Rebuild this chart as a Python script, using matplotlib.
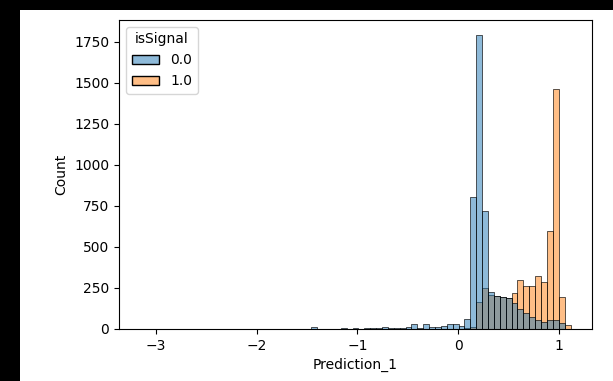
import numpy as np
import matplotlib
matplotlib.use("Agg")
import matplotlib.pyplot as plt
from matplotlib.colors import to_rgba
from matplotlib.patches import Rectangle, Patch

# Histogram bin range and counts per hue level (73 equal-width bins)
x_min = -3.152
x_max = 1.114

counts_bg = [1, 0, 0, 0, 0, 1, 0, 0, 0, 0,
             0, 1, 0, 0, 0, 0, 1, 0, 0, 0,
             0, 1, 0, 0, 1, 0, 1, 0, 2, 10,
             1, 2, 1, 3, 8, 3, 8, 3, 4, 6,
             9, 10, 8, 8, 9, 10, 28, 9, 28, 12,
             11, 20, 33, 33, 18, 58, 806, 1794, 720, 227,
             201, 197, 188, 158, 124, 100, 72, 57, 42, 52,
             57, 34, 3]
counts_sig = [0] * 54 + [2, 6, 15, 166, 252, 210, 200, 195, 190, 217,
                         300, 262, 260, 323, 287, 599, 1462, 195, 24]

hue_levels = ["0.0", "1.0"]
hue_colors = ["#1f77b4", "#ff7f0e"]
x_label = "Prediction_1"
y_label = "Count"
legend_title = "isSignal"

fig = plt.figure(figsize=(6.13, 3.81), dpi=100, facecolor="black")
fig.add_artist(Rectangle((20 / 613, 0), 593 / 613, 371 / 381,
                         transform=fig.transFigure, facecolor="white",
                         edgecolor="none", zorder=-1))
ax = fig.add_axes([119 / 613, 52 / 381, 473 / 613, 309 / 381])

edges = np.linspace(x_min, x_max, len(counts_bg) + 1)
widths = np.diff(edges)

# seaborn layers hue levels in reverse order
for counts, color in [(counts_sig, hue_colors[1]), (counts_bg, hue_colors[0])]:
    ax.bar(edges[:-1], counts, width=widths, align="edge",
           facecolor=to_rgba(color, 0.5), edgecolor="black", linewidth=0.45)

ax.set_xticks([-3, -2, -1, 0, 1])
ax.set_yticks(np.arange(0, 1751, 250))
ax.set_xlabel(x_label, fontsize=10)
ax.set_ylabel(y_label, fontsize=10)
ax.tick_params(labelsize=10)

handles = [Patch(facecolor=to_rgba(c, 0.5), edgecolor="black", linewidth=1.0)
           for c in hue_colors]
ax.legend(handles, hue_levels, title=legend_title, loc="upper left",
          fontsize=10, title_fontsize=10)

fig.savefig("out.png", dpi=100)
